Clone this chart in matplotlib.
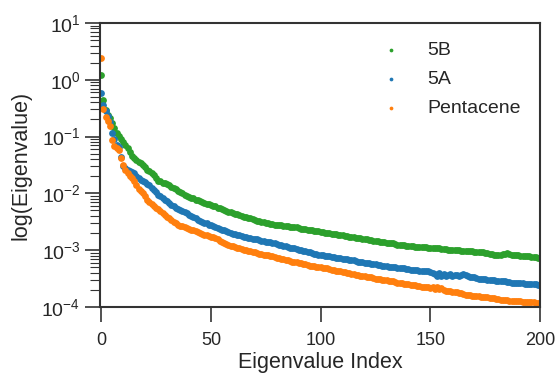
import matplotlib
matplotlib.use("Agg")
import matplotlib.pyplot as plt
import numpy as np

plt.rcParams['font.family'] = ['Liberation Sans', 'DejaVu Sans']
plt.rcParams['mathtext.default'] = 'regular'

labels = ['5B', '5A', 'Pentacene']
colors = ['#2ca02c', '#1f77b4', '#ff7f0e']

# log10 of each eigenvalue, index 0..200
log_5b = [
    0.09, -0.36, -0.53, -0.62, -0.68, -0.76, -0.85, -0.94, -0.99, -1.05,
    -1.10, -1.15, -1.21, -1.28, -1.35, -1.38, -1.41, -1.44, -1.47, -1.50,
    -1.54, -1.58, -1.61, -1.64, -1.67, -1.73, -1.78, -1.79, -1.81, -1.82,
    -1.84, -1.85, -1.88, -1.90, -1.93, -1.96, -1.98, -2.00, -2.02, -2.04,
    -2.06, -2.08, -2.09, -2.11, -2.12, -2.14, -2.15, -2.17, -2.18, -2.19,
    -2.21, -2.22, -2.23, -2.25, -2.26, -2.28, -2.29, -2.31, -2.32, -2.33,
    -2.35, -2.36, -2.37, -2.38, -2.40, -2.41, -2.42, -2.43, -2.44, -2.45,
    -2.47, -2.48, -2.49, -2.50, -2.51, -2.52, -2.53, -2.54, -2.54, -2.55,
    -2.55, -2.56, -2.56, -2.57, -2.57, -2.58, -2.59, -2.59, -2.60, -2.60,
    -2.61, -2.62, -2.62, -2.63, -2.64, -2.64, -2.65, -2.66, -2.66, -2.67,
    -2.68, -2.68, -2.69, -2.70, -2.70, -2.71, -2.72, -2.72, -2.73, -2.74,
    -2.74, -2.75, -2.75, -2.76, -2.77, -2.77, -2.78, -2.79, -2.79, -2.80,
    -2.80, -2.81, -2.82, -2.82, -2.83, -2.83, -2.84, -2.85, -2.85, -2.86,
    -2.87, -2.87, -2.88, -2.88, -2.89, -2.90, -2.90, -2.91, -2.91, -2.92,
    -2.92, -2.93, -2.93, -2.94, -2.94, -2.94, -2.95, -2.95, -2.95, -2.96,
    -2.96, -2.96, -2.97, -2.97, -2.97, -2.98, -2.98, -2.98, -2.99, -2.99,
    -2.99, -3.00, -3.00, -3.00, -3.01, -3.01, -3.01, -3.01, -3.02, -3.02,
    -3.03, -3.03, -3.03, -3.04, -3.04, -3.05, -3.05, -3.06, -3.07, -3.08,
    -3.08, -3.09, -3.08, -3.07, -3.06, -3.05, -3.07, -3.08, -3.08, -3.09,
    -3.09, -3.10, -3.10, -3.10, -3.11, -3.11, -3.12, -3.12, -3.12, -3.13,
    -3.13,
]
log_5a = [
    -0.24, -0.44, -0.55, -0.64, -0.74, -0.94, -1.05, -1.14, -1.18, -1.36,
    -1.52, -1.56, -1.58, -1.61, -1.63, -1.65, -1.69, -1.73, -1.76, -1.78,
    -1.80, -1.83, -1.86, -1.90, -1.94, -1.98, -2.02, -2.05, -2.08, -2.11,
    -2.14, -2.17, -2.20, -2.22, -2.25, -2.27, -2.29, -2.31, -2.33, -2.35,
    -2.38, -2.40, -2.42, -2.44, -2.46, -2.48, -2.50, -2.52, -2.53, -2.55,
    -2.56, -2.58, -2.59, -2.61, -2.62, -2.64, -2.65, -2.67, -2.68, -2.69,
    -2.71, -2.72, -2.73, -2.74, -2.75, -2.76, -2.77, -2.78, -2.79, -2.80,
    -2.80, -2.81, -2.82, -2.83, -2.84, -2.85, -2.85, -2.86, -2.87, -2.88,
    -2.89, -2.90, -2.91, -2.92, -2.93, -2.95, -2.96, -2.96, -2.97, -2.98,
    -2.99, -3.00, -3.01, -3.02, -3.03, -3.04, -3.05, -3.06, -3.07, -3.08,
    -3.08, -3.09, -3.10, -3.10, -3.11, -3.12, -3.12, -3.13, -3.14, -3.14,
    -3.15, -3.16, -3.16, -3.17, -3.18, -3.18, -3.19, -3.20, -3.20, -3.21,
    -3.22, -3.22, -3.23, -3.24, -3.24, -3.25, -3.26, -3.26, -3.27, -3.27,
    -3.28, -3.29, -3.29, -3.30, -3.30, -3.31, -3.31, -3.32, -3.32, -3.33,
    -3.33, -3.34, -3.34, -3.35, -3.35, -3.36, -3.36, -3.36, -3.37, -3.37,
    -3.38, -3.40, -3.42, -3.46, -3.41, -3.45, -3.42, -3.46, -3.44, -3.42,
    -3.45, -3.43, -3.44, -3.45, -3.43, -3.42, -3.44, -3.46, -3.47, -3.48,
    -3.48, -3.49, -3.50, -3.50, -3.51, -3.51, -3.52, -3.52, -3.53, -3.53,
    -3.54, -3.54, -3.55, -3.55, -3.55, -3.56, -3.56, -3.57, -3.57, -3.57,
    -3.58, -3.58, -3.58, -3.59, -3.59, -3.59, -3.60, -3.60, -3.60, -3.61,
    -3.61,
]
log_pentacene = [
    0.38, -0.52, -0.65, -0.72, -0.81, -1.06, -1.17, -1.20, -1.24, -1.38,
    -1.50, -1.59, -1.65, -1.70, -1.73, -1.78, -1.86, -1.92, -1.96, -2.00,
    -2.05, -2.11, -2.15, -2.18, -2.22, -2.25, -2.28, -2.31, -2.35, -2.38,
    -2.41, -2.44, -2.47, -2.50, -2.52, -2.55, -2.57, -2.58, -2.60, -2.61,
    -2.63, -2.64, -2.65, -2.67, -2.68, -2.70, -2.71, -2.73, -2.74, -2.75,
    -2.76, -2.77, -2.79, -2.81, -2.83, -2.85, -2.87, -2.89, -2.90, -2.92,
    -2.93, -2.95, -2.96, -2.97, -2.98, -2.99, -3.00, -3.01, -3.02, -3.03,
    -3.04, -3.05, -3.06, -3.07, -3.08, -3.08, -3.09, -3.10, -3.11, -3.12,
    -3.13, -3.14, -3.15, -3.16, -3.17, -3.18, -3.19, -3.20, -3.20, -3.21,
    -3.22, -3.23, -3.24, -3.25, -3.26, -3.27, -3.28, -3.28, -3.29, -3.30,
    -3.30, -3.31, -3.32, -3.32, -3.33, -3.34, -3.35, -3.36, -3.37, -3.37,
    -3.38, -3.39, -3.40, -3.41, -3.42, -3.42, -3.43, -3.44, -3.45, -3.45,
    -3.46, -3.47, -3.48, -3.48, -3.49, -3.50, -3.50, -3.51, -3.52, -3.52,
    -3.53, -3.54, -3.55, -3.55, -3.56, -3.57, -3.57, -3.58, -3.59, -3.59,
    -3.60, -3.61, -3.61, -3.62, -3.63, -3.63, -3.64, -3.64, -3.65, -3.65,
    -3.66, -3.64, -3.68, -3.65, -3.69, -3.66, -3.70, -3.71, -3.72, -3.72,
    -3.73, -3.73, -3.74, -3.75, -3.76, -3.77, -3.78, -3.79, -3.79, -3.80,
    -3.80, -3.81, -3.81, -3.82, -3.82, -3.83, -3.83, -3.84, -3.85, -3.85,
    -3.86, -3.86, -3.87, -3.87, -3.88, -3.88, -3.89, -3.89, -3.89, -3.90,
    -3.90, -3.90, -3.91, -3.91, -3.91, -3.92, -3.92, -3.92, -3.93, -3.93,
    -3.93,
]

series = [log_5b, log_5a, log_pentacene]

fig = plt.figure(figsize=(5.58, 3.76), dpi=100)
ax = fig.add_axes([0.179, 0.1835, 0.789, 0.7555])

for vals, lab, col in zip(series, labels, colors):
    idx = np.arange(len(vals))
    ax.scatter(idx, 10 ** np.array(vals), s=24, color=col, linewidths=0, label=lab)

ax.set_yscale('log')
ax.set_xlim(-0.6, 200)
ax.set_ylim(1e-4, 1e1)
ax.set_xticks([0, 50, 100, 150, 200])

for sp in ax.spines.values():
    sp.set_color('#333333')
    sp.set_linewidth(1.5)
ax.tick_params(which='major', direction='out', length=11, width=1.2,
               color='#333333', labelcolor='#262626')
ax.tick_params(which='minor', direction='out', length=7, width=0.8, color='#333333')
ax.tick_params(axis='x', which='major', labelsize=13, pad=7)
ax.tick_params(axis='y', which='major', labelsize=14, pad=3)

ax.set_xlabel('Eigenvalue Index', fontsize=15.5, color='#262626', labelpad=2)
ax.set_ylabel('log(Eigenvalue)', fontsize=15.5, color='#262626', labelpad=7)

leg = ax.legend(loc='upper right', frameon=False, fontsize=14, markerscale=0.55,
                handlelength=2.0, handletextpad=0.86, labelspacing=0.58,
                borderaxespad=0, bbox_to_anchor=(0.973, 0.962))
for t in leg.get_texts():
    t.set_color('#262626')

fig.savefig('out.png', dpi=100)
